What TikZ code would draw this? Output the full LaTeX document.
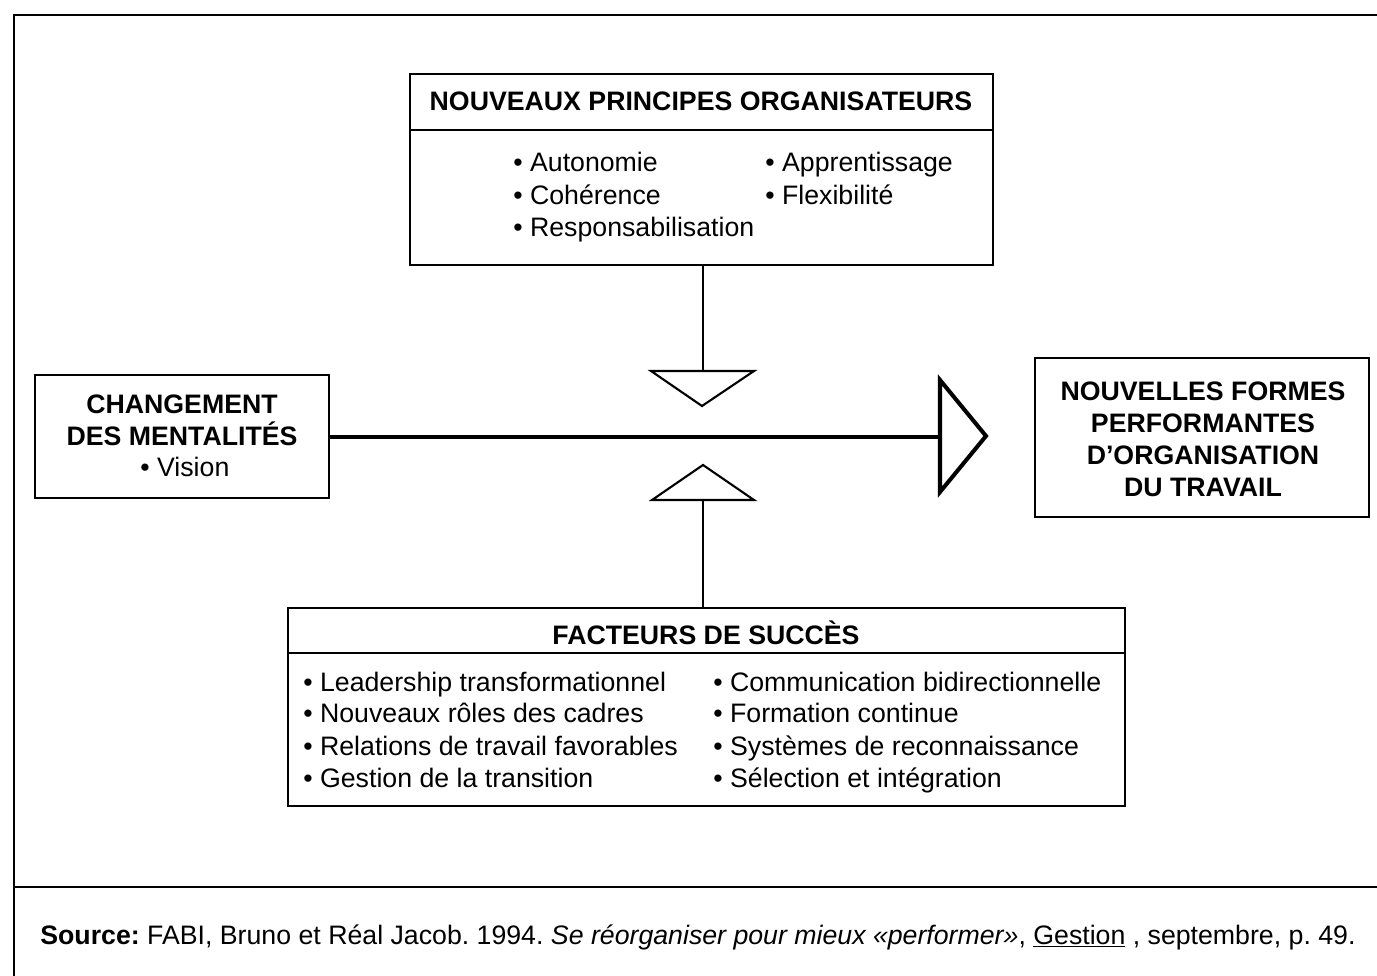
\documentclass[tikz,border=0pt]{standalone}
\usepackage{fontspec}
\setmainfont{Liberation Sans}
\frenchspacing
\begin{document}
\begin{tikzpicture}[x=0.02cm,y=-0.02cm,
  box/.style={draw,line width=1.2pt,inner sep=0pt,outer sep=0pt,anchor=north west},
  txt/.style={inner sep=0pt,font=\fontsize{15.2}{18.2}\selectfont},
  ttl/.style={txt,font=\fontsize{15.2}{18.2}\selectfont\bfseries,align=center},
  item/.style={txt,anchor=base west},
  thin/.style={line width=1.2pt},
  tri/.style={line width=1.2pt,fill=white,line join=miter}]
\useasboundingbox (0,0) rectangle (1377,976);
% frame
\draw[line width=1.7pt] (1377,15) -- (14,15) -- (14,976);
\draw[line width=1.3pt] (14,887) -- (1377,887);
% top box
\node[box,minimum width=11.66cm,minimum height=3.82cm] (top) at (410,74) {};
\draw[thin] (410,130) -- (993,130);
\node[ttl] (toptitle) at (701,101) {NOUVEAUX PRINCIPES ORGANISATEURS};
\node[item] (t1) at (513,172) {• Autonomie};
\node[item] (t2) at (513,205) {• Cohérence};
\node[item] (t3) at (513,237) {• Responsabilisation};
\node[item] (t4) at (765,172) {• Apprentissage};
\node[item] (t5) at (765,205) {• Flexibilité};
% left box
\node[box,minimum width=5.88cm,minimum height=2.46cm] (left) at (35,375) {};
\node[ttl] (lefttitle) at (182,420) {CHANGEMENT\\DES MENTALITÉS};
\node[item] (l1) at (140,477) {• Vision};
% right box
\node[box,minimum width=6.68cm,minimum height=3.18cm] (right) at (1035,358) {};
\node[ttl] (righttitle) at (1203,439) {NOUVELLES FORMES\\PERFORMANTES\\D’ORGANISATION\\DU TRAVAIL};
% bottom box
\node[box,minimum width=16.74cm,minimum height=3.96cm] (bot) at (288,608) {};
\draw[thin] (288,653) -- (1125,653);
\node[ttl] (bottitle) at (706,633) {FACTEURS DE SUCCÈS};
\node[item] (b1) at (303,691) {• Leadership transformationnel};
\node[item] (b2) at (303,723) {• Nouveaux rôles des cadres};
\node[item] (b3) at (303,755) {• Relations de travail favorables};
\node[item] (b4) at (303,787) {• Gestion de la transition};
\node[item] (b5) at (713,691) {• Communication bidirectionnelle};
\node[item] (b6) at (713,723) {• Formation continue};
\node[item] (b7) at (713,755) {• Systèmes de reconnaissance};
\node[item] (b8) at (713,787) {• Sélection et intégration};
% triangles
\coordinate (dtop) at (703,371);
\coordinate (ubase) at (703,500);
\coordinate (arrbase) at (940,437);
\draw[tri] (651,371) -- (754,371) -- (702,406) -- cycle;
\draw[tri] (652,500) -- (754,500) -- (703,465) -- cycle;
\draw[thin] (dtop |- top.south) -- (dtop);
\draw[thin] (ubase) -- (ubase |- bot.north);
\draw[line width=2.3pt] (left.east |- arrbase) -- (arrbase);
\draw[line width=2.3pt,line join=miter,fill=white] (940,380) -- (986,436) -- (940,492) -- cycle;
% source
\node[item] (src) at (40,944) {\textbf{Source:} FABI, Bruno et Réal Jacob. 1994. \textit{Se réorganiser pour mieux «performer»}, \underline{Gestion} , septembre, p. 49.};
\end{tikzpicture}
\end{document}
